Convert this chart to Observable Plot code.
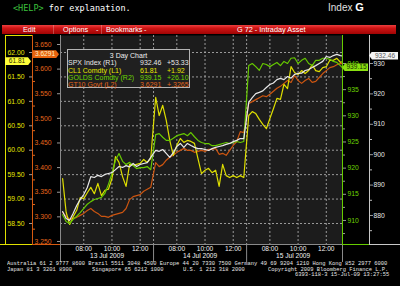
<!DOCTYPE html>
<html><head><meta charset="utf-8">
<script src="https://cdn.jsdelivr.net/npm/d3@7"></script>
<script src="https://cdn.jsdelivr.net/npm/@observablehq/plot@0.6"></script>
<style>
html,body{margin:0;padding:0;background:#000;}
#root{position:relative;width:400px;height:286px;overflow:hidden;background:#000;font-family:"Liberation Sans",Arial,sans-serif;}
.a{position:absolute;white-space:pre;}
#bar{left:2px;top:25px;width:394px;height:9px;background:linear-gradient(#ec4040 0%,#cf1414 35%,#a00404 100%);}
.bt{position:absolute;top:0;line-height:9px;font-size:7.3px;color:#fff;}
.foot{font-family:"Liberation Mono",monospace;font-size:5.4px;line-height:6px;color:#e6e6e6;transform-origin:0 0;}
.tag{position:absolute;height:8px;line-height:8px;font-size:6.6px;text-align:center;}
.ln{position:absolute;}
#chart svg{display:block;}
</style></head><body><div id="root">
<div class="a" style="left:13px;top:2px;font-family:'DejaVu Sans Mono',monospace;font-size:8.5px;line-height:12px;color:#fff;"><span style="color:#3cc03c">&lt;HELP&gt;</span> for explanation.</div>
<div class="a" style="left:328px;top:1px;font-size:10px;line-height:13px;color:#e0e0e0;">Index <b style="font-size:11px;color:#fff">G</b></div>
<div class="a" id="bar">
<span class="bt" style="left:21px">Edit</span>
<span class="bt" style="left:51px;width:1px;height:9px;background:rgba(255,255,255,0.25)"></span>
<span class="bt" style="left:61px">Options</span><span class="bt" style="left:94px">-</span>
<span class="bt" style="left:99px;width:1px;height:9px;background:rgba(255,255,255,0.25)"></span>
<span class="bt" style="left:104px">Bookmarks</span><span class="bt" style="left:142px">-</span>
<span class="bt" style="left:235px">G 72 - Intraday Asset</span>
</div>
<div id="chart" class="a" style="left:0;top:34px"></div>
<div class="ln" style="left:5px;top:35px;width:1px;height:210px;background:#e0e000"></div>
<div class="ln" style="left:5px;top:35px;width:28px;height:1px;background:#e0e000"></div>
<div class="ln" style="left:0px;top:244px;width:33px;height:1px;background:#e0e000"></div>
<div class="ln" style="left:32px;top:35px;width:1px;height:210px;background:#d65a10"></div>
<div class="ln" style="left:33px;top:244px;width:27px;height:1px;background:#d65a10"></div>
<div class="ln" style="left:342px;top:35px;width:1px;height:210px;background:#66cc00"></div>
<div class="ln" style="left:342px;top:244px;width:27px;height:1px;background:#66cc00"></div>
<div class="ln" style="left:369px;top:35px;width:1px;height:210px;background:#c8c8c8"></div>
<div class="ln" style="left:369px;top:244px;width:31px;height:1px;background:#c8c8c8"></div>
<div id="legend" class="a" style="left:67px;top:49px;width:121px;height:37px;background:#202020;border:1px solid #b4b4b4;"></div>
<div id="tags"></div>
<div id="footer"></div>
</div>
<script>
// ---- data ----
const days = ["13 Jul 2009", "14 Jul 2009", "15 Jul 2009"];
const session = ["06:21", "12:57"];
const hourLabels = ["08:00", "10:00", "12:00"];
const times = ["06:30","06:45","07:00","07:15","07:30","07:45","08:00","08:15","08:30","08:45","09:00","09:15","09:30","09:45","10:00","10:15","10:30","10:45","11:00","11:15","11:30","11:45","12:00","12:15","12:30","12:45"];
const timesLastDay = times.concat(["13:00", "13:09"]);

const spx13 = [881.3,879.0,878.4,880.7,883.3,885.3,886.9,889.2,892.8,892.5,893.2,892.8,893.5,893.8,894.1,895.1,896.1,895.8,896.4,896.0,897.1,896.1,896.8,897.1,897.4,899.1];
const spx14 = [901.4,901.1,901.7,900.4,899.1,900.7,902.7,903.7,902.4,903.7,903.0,902.4,902.0,902.0,901.7,901.4,902.0,902.4,902.7,903.0,903.4,903.7,904.3,904.7,905.3,905.3];
const spx15 = [917.2,918.8,920.1,920.5,921.0,922.1,923.1,923.6,924.7,925.1,924.7,925.7,925.2,926.4,926.7,926.8,927.7,928.0,928.7,929.3,930.0,930.7,932.3,932.0,932.6,933.0,932.6,932.46];

const cl1_13 = [59.42,58.73,58.48,58.64,58.77,59.03,59.01,59.13,59.24,59.11,59.32,59.07,59.18,59.20,59.42,59.87,59.75,59.46,59.26,59.71,59.69,59.71,59.73,59.81,59.75,59.83];
const cl1_14 = [61.08,60.71,60.92,60.61,60.20,59.89,60.10,60.24,60.16,60.20,60.18,60.14,59.83,59.52,59.59,59.63,59.54,59.59,59.26,59.71,59.48,59.44,59.48,59.44,59.48,59.44];
const cl1_15 = [60.71,60.79,60.75,60.63,60.53,60.44,60.65,60.85,61.06,61.04,61.35,61.26,61.71,61.59,61.55,61.63,61.57,61.63,61.75,61.63,61.61,61.69,61.71,61.84,61.84,61.88,61.80,61.81];

const golds13 = [911.1,909.8,909.4,910.2,910.8,911.5,912.3,913.1,913.6,914.0,914.2,914.4,915.2,916.9,919.0,921.5,922.8,921.3,920.7,921.1,920.5,919.9,920.1,920.1,920.3,919.7];
const golds14 = [926.4,926.6,925.9,925.3,925.3,925.7,926.2,926.4,926.6,926.2,926.8,926.0,925.3,924.9,924.7,924.7,924.3,924.3,924.5,924.7,924.9,924.7,924.9,925.1,924.9,925.1];
const golds15 = [939.6,940.0,939.4,938.7,940.0,939.8,939.4,939.8,940.2,939.6,940.4,940.0,941.0,941.1,940.0,940.6,941.0,940.0,939.6,940.6,940.6,941.0,941.0,940.8,940.4,940.2,939.6,939.15];

const gt13 = [3.309,3.301,3.295,3.297,3.299,3.303,3.307,3.313,3.317,3.311,3.307,3.301,3.301,3.299,3.303,3.305,3.307,3.309,3.317,3.335,3.341,3.343,3.345,3.352,3.356,3.360];
const gt14 = [3.410,3.402,3.406,3.415,3.421,3.425,3.431,3.435,3.439,3.435,3.435,3.431,3.433,3.435,3.433,3.437,3.437,3.439,3.427,3.429,3.425,3.435,3.445,3.453,3.473,3.471];
const gt15 = [3.530,3.534,3.538,3.542,3.546,3.544,3.549,3.555,3.561,3.565,3.571,3.577,3.573,3.587,3.577,3.571,3.577,3.581,3.573,3.575,3.583,3.591,3.597,3.603,3.605,3.609,3.611,3.611];

const legendNames = ["SPX Index (R1)", "CL1 Comdty (L1)", "GOLDS Comdty (R2)", "GT10 Govt (L2)"];
const legendLast = ["932.46", "61.81", "939.15", "3.6291"];
const legendChange = ["+53.33", "+1.92", "+26.10", "+.3265"];

const cl1Ticks = [58.5, 59.0, 59.5, 60.0, 60.5, 61.0, 61.5, 62.0];
const gt10Ticks = [3.25, 3.30, 3.35, 3.40, 3.45, 3.50, 3.55, 3.60, 3.65];
const gt10Minor = [3.275, 3.325, 3.375, 3.425, 3.475, 3.525, 3.575, 3.625];
const goldsTicks = [910, 915, 920, 925, 930, 935, 940];
const goldsMinor = [907.5, 912.5, 917.5, 922.5, 927.5, 932.5, 937.5];
const spxTicks = [880, 890, 900, 910, 920, 930];
const spxMinor = [875, 885, 895, 905, 915, 925];

const footerLine1 = "Australia 61 2 9777 8600 Brazil 5511 3048 4500 Europe 44 20 7330 7500 Germany 49 69 9204 1210 Hong Kong 852 2977 6000";
const footerLine2 = ["Japan 81 3 3201 8900", "Singapore 65 6212 1000", "U.S. 1 212 318 2000", "Copyright 2009 Bloomberg Finance L.P."];
const footerLine3 = "6393-118-3 15-Jul-09 13:27:55";

// ---- colours ----
const C = {spx: "#e8e8e8", cl1: "#dede00", golds: "#66c800", gt: "#cc5510"};
const T = {spx: "#e6e6e6", cl1: "#e6e600", golds: "#6cd400", gt: "#e2661c"};

// ---- axis alignment (values on other axes expressed in CL1 units) ----
const yDomain = [58.07, 62.348];
const gtToL1 = d3.scaleLinear().domain([3.25, 3.65]).range([58.132, 62.164]);
const goldsToL1 = d3.scaleLinear().domain([910, 940]).range([58.562, 61.775]);
const spxToL1 = d3.scaleLinear().domain([880, 930]).range([58.664, 61.775]);
const idL1 = v => v;

// ---- time axis ----
const hrs = t => { const [h, m] = t.split(":").map(Number); return h + m / 60; };
const s0 = hrs(session[0]);
const dayLen = hrs(session[1]) - s0;
const sx = (d, t) => d * dayLen + hrs(t) - s0;
const xEnd = sx(2, timesLastDay[timesLastDay.length - 1]);

const rows = (perDay, map) => perDay.flatMap((arr, d) => {
  const ts = d === 2 ? timesLastDay : times;
  return arr.map((v, i) => ({s: sx(d, ts[i]), y: map(v)}));
});

const gridX = days.flatMap((_, d) => hourLabels.map(h => sx(d, h)));
const dayBreaks = [dayLen, 2 * dayLen];
const hourText = days.flatMap((_, d) => hourLabels.map(h => ({s: sx(d, h), label: h})));
const dayText = days.map((label, d) => ({s: d * dayLen + dayLen / 2, label}));

const fmt2 = d3.format(".2f"), fmt3 = d3.format(".3f"), fmt0 = d3.format("d");

const chart = Plot.plot({
  width: 400, height: 228,
  marginLeft: 60, marginRight: 58, marginTop: 1, marginBottom: 18,
  x: {domain: [0, xEnd], axis: null},
  y: {domain: yDomain},
  style: {background: "transparent", color: "#ccc", fontFamily: "'Liberation Sans', Arial, sans-serif", fontSize: "6.8px", overflow: "visible"},
  marks: [
    Plot.frame({fill: "#1c1c1c", stroke: null}),
    Plot.ruleY(cl1Ticks, {stroke: "#a8a8a8", strokeDasharray: "2,2", strokeWidth: 0.9}),
    Plot.ruleX(gridX.concat(dayBreaks), {stroke: "#a8a8a8", strokeDasharray: "2,2", strokeWidth: 0.9}),
    Plot.ruleX([0, ...dayBreaks, xEnd], {stroke: "#8a8a8a", insetTop: 209, insetBottom: -18}),
    Plot.ruleX([0], {stroke: "#8a8a8a"}),
    Plot.ruleY([yDomain[0]], {stroke: "#8a8a8a"}),
    Plot.line(rows([gt13, gt14, gt15], gtToL1), {x: "s", y: "y", stroke: C.gt, strokeWidth: 1.2}),
    Plot.line(rows([cl1_13, cl1_14, cl1_15], idL1), {x: "s", y: "y", stroke: C.cl1, strokeWidth: 1.2}),
    Plot.line(rows([golds13, golds14, golds15], goldsToL1), {x: "s", y: "y", stroke: C.golds, strokeWidth: 1.2}),
    Plot.line(rows([spx13, spx14, spx15], spxToL1), {x: "s", y: "y", stroke: C.spx, strokeWidth: 1.2}),
    // left axes
    Plot.axisY(cl1Ticks, {anchor: "left", dx: -28, tickSize: 3, tickPadding: 5, tickFormat: fmt2, fill: T.cl1, stroke: "#9a9a9a", fontSize: 6.8, label: null}),
    Plot.axisY(gt10Ticks.map(gtToL1), {anchor: "left", tickSize: 3, tickPadding: 6, tickFormat: d => fmt3(gtToL1.invert(d)), fill: T.gt, stroke: "#9a9a9a", fontSize: 6.8, label: null}),
    Plot.axisY(gt10Minor.map(gtToL1), {anchor: "left", dx: -25, tickSize: 2, tickFormat: () => "", stroke: T.gt, label: null}),
    // right axes
    Plot.axisY(goldsTicks.map(goldsToL1), {anchor: "right", tickSize: 3, tickPadding: 2, tickFormat: d => fmt0(Math.round(goldsToL1.invert(d))), fill: T.golds, stroke: "#9a9a9a", fontSize: 6.8, label: null}),
    Plot.axisY(goldsMinor.map(goldsToL1), {anchor: "right", tickSize: 2, tickFormat: () => "", stroke: "#9a9a9a", label: null}),
    Plot.axisY(spxTicks.map(spxToL1), {anchor: "right", dx: 27, tickSize: 3, tickPadding: 1, tickFormat: d => fmt0(Math.round(spxToL1.invert(d))), fill: T.spx, stroke: "#9a9a9a", fontSize: 6.8, label: null}),
    Plot.axisY(spxMinor.map(spxToL1), {anchor: "right", dx: 27, tickSize: 2, tickFormat: () => "", stroke: "#bbbbbb", label: null}),
    // time axis
    Plot.text(hourText, {x: "s", text: "label", frameAnchor: "bottom", dy: 6, fill: "#f2f2f2", fontSize: 6.6}),
    Plot.text(dayText, {x: "s", text: "label", frameAnchor: "bottom", dy: 13, fill: "#f2f2f2", fontSize: 6.6})
  ]
});
document.getElementById("chart").appendChild(chart);

// ---- legend ----
const legendColors = [T.spx, T.cl1, T.golds, T.gt];
const lg = document.getElementById("legend");
const addText = (txt, left, top, color, extra) => {
  const el = document.createElement("div");
  el.className = "a";
  el.textContent = txt;
  el.style.cssText += `left:${left}px;top:${top}px;color:${color};font-size:7px;line-height:7px;` + (extra || "");
  lg.appendChild(el);
};
addText("3 Day Chart", 0, 2, "#f0f0f0", "width:121px;text-align:center;");
legendNames.forEach((n, i) => {
  const top = 9.3 + i * 7.2;
  addText(n, 0, top, legendColors[i]);
  addText(legendLast[i], 72, top, legendColors[i]);
  addText(legendChange[i], 99, top, legendColors[i]);
});

// ---- footer (monospace, fitted to 3.25 px per character) ----
const ft = document.getElementById("root");
const addFoot = (txt, left, top, alignRight) => {
  const el = document.createElement("div");
  el.className = "a foot";
  el.textContent = txt;
  ft.appendChild(el);
  const w = el.getBoundingClientRect().width;
  const target = txt.length * 3.25;
  const k = w > 0 ? target / w : 1;
  el.style.left = (alignRight ? left - target : left) + "px";
  el.style.top = top + "px";
  el.style.transform = `scaleX(${k})`;
};
addFoot(footerLine1, 7, 261);
[7, 92, 183, 268].forEach((x, i) => addFoot(footerLine2[i], x, 266.5));
addFoot(footerLine3, 389, 272, true);

// ---- last-value tags placed through the y scale ----
const ys = chart.scale("y");
const py = v => 34 + ys.apply(v);
const tags = document.getElementById("tags");
const addTag = (txt, left, width, yv, bg, fg, dir) => {
  const el = document.createElement("div");
  el.className = "tag";
  el.textContent = txt;
  const clip = dir === "right"
    ? "polygon(0 0, calc(100% - 3px) 0, 100% 50%, calc(100% - 3px) 100%, 0 100%)"
    : "polygon(3px 0, 100% 0, 100% 100%, 3px 100%, 0 50%)";
  el.style.cssText += `left:${left}px;width:${width}px;top:${py(yv) - 4}px;background:${bg};color:${fg};clip-path:${clip};` + (dir === "right" ? "padding-right:2px;box-sizing:border-box;" : "padding-left:3px;box-sizing:border-box;");
  tags.appendChild(el);
};
addTag(legendLast[1], 5, 26, 61.81, "#ffff3a", "#303000", "right");
addTag(legendLast[3], 33, 26, gtToL1(3.6291), "#e8640f", "#fff0c8", "right");
addTag(legendLast[2], 342, 26, goldsToL1(939.15), "#8ae010", "#183000", "left");
addTag(legendLast[0], 369, 29, spxToL1(932.46), "#f4f4f4", "#606060", "left");
</script>
</body></html>
